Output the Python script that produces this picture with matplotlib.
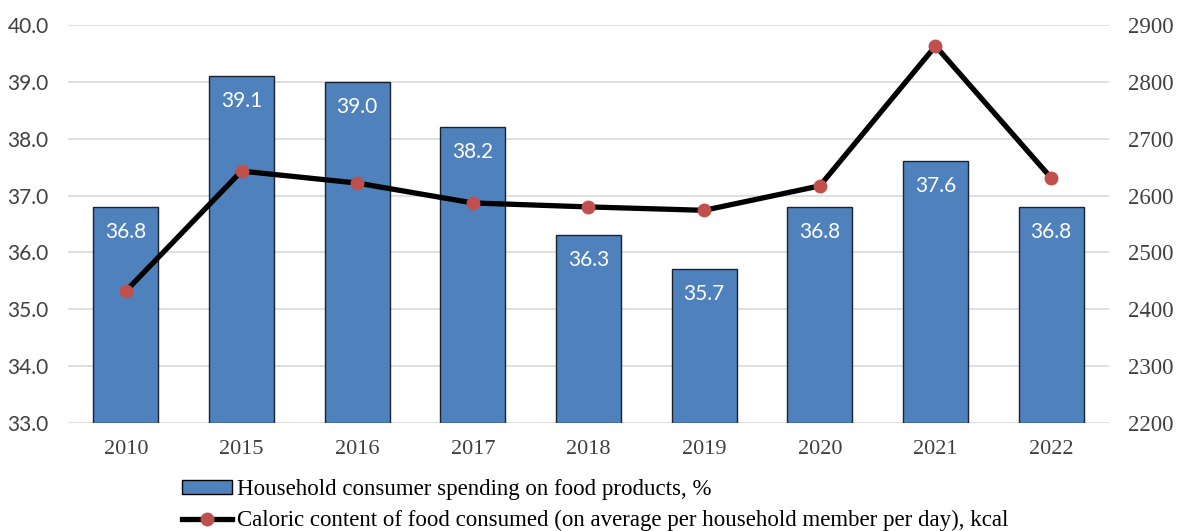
import matplotlib
matplotlib.use("Agg")
import matplotlib.pyplot as plt
from matplotlib.lines import Line2D
from matplotlib.patches import Patch

years = ["2010", "2015", "2016", "2017", "2018", "2019", "2020", "2021", "2022"]
spending = [36.8, 39.1, 39.0, 38.2, 36.3, 35.7, 36.8, 37.6, 36.8]
calories = [2432, 2643, 2622, 2587, 2580, 2574, 2617, 2863, 2631]

bar_label = "Household consumer spending on food products, %"
line_label = "Caloric content of food consumed (on average per household member per day), kcal"

fig = plt.figure(figsize=(11.79, 5.31), dpi=100)
ax = fig.add_axes([0.0577, 0.2034, 0.8829, 0.7496])
x = list(range(len(years)))

ax.bar(x, [v - 33 for v in spending], bottom=33, width=0.56, color="#4F81BD",
       edgecolor="#1A2230", linewidth=1.0, zorder=2)
for xi, v in zip(x, spending):
    ax.annotate(f"{v:.1f}", (xi, v), xytext=(0, -25), textcoords="offset pixels",
                ha="center", va="center", color="white",
                fontsize=15, family="Lato", zorder=5)

ax.set_ylim(33, 40)
ax.set_xlim(-0.5, len(years) - 0.5)
ax.set_yticks([33 + i for i in range(8)])
ax.set_yticklabels([f"{33 + i:.1f}" for i in range(8)], fontsize=15, family="Lato", color="#404040")
ax.set_xticks(x)
ax.set_xticklabels(years, fontsize=16, family="Liberation Serif", color="#404040")
ax.grid(axis="y", color="#D9D9D9", linewidth=1.2, zorder=0)
ax.set_axisbelow(True)
for s in ax.spines.values():
    s.set_visible(False)
ax.tick_params(axis="both", length=0)
ax.tick_params(axis="y", pad=14)
ax.tick_params(axis="x", pad=12)

ax2 = ax.twinx()
ax2.plot(x, calories, color="black", linewidth=3.8, marker="o", markersize=9,
         markerfacecolor="#C0504D", markeredgecolor="#C0504D", zorder=4)
ax2.set_ylim(2200, 2900)
ax2.set_yticks(list(range(2200, 2901, 100)))
ax2.set_yticklabels([str(v) for v in range(2200, 2901, 100)], fontsize=16.5,
                    family="Liberation Serif", color="#404040")
for s in ax2.spines.values():
    s.set_visible(False)
ax2.tick_params(axis="y", length=0, pad=14)

handles = [Patch(facecolor="#4F81BD", edgecolor="black", linewidth=1.0),
           Line2D([0], [0], color="black", linewidth=3.8, marker="o", markersize=9,
                  markerfacecolor="#C0504D", markeredgecolor="#C0504D")]
fig.legend(handles, [bar_label, line_label], loc="center left",
           bbox_to_anchor=(182 / 1179, 1 - 505 / 531), frameon=False, handlelength=2.2,
           handleheight=0.55, handletextpad=0.2, labelspacing=0.45, borderpad=0,
           borderaxespad=0, prop={"family": "Liberation Serif", "size": 16.5})

fig.savefig("out.png", dpi=100)
